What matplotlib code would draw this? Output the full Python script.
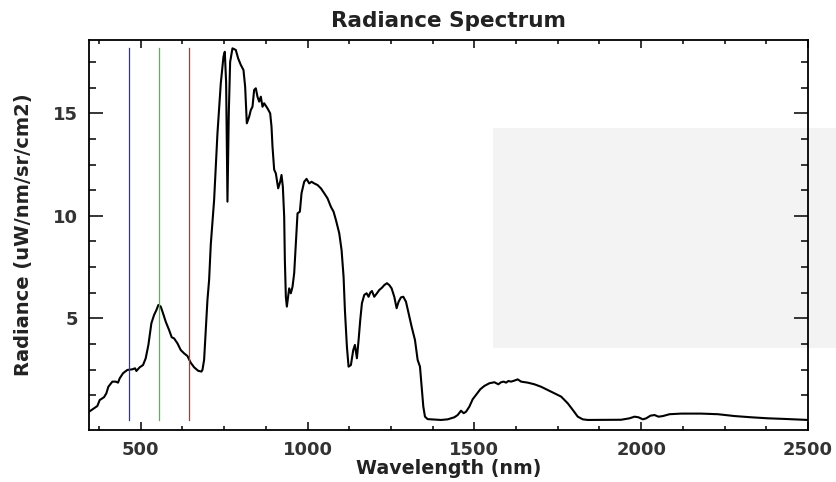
import matplotlib
matplotlib.use("Agg")
import matplotlib.pyplot as plt
from matplotlib.patches import Rectangle
from matplotlib.ticker import FixedLocator

wavelength = [345, 360, 370, 377, 390, 397, 403, 415, 425, 432, 437, 447, 460, 475, 483, 487,
              497, 507, 515, 523, 532, 540, 547, 553, 560, 567, 575, 585, 593, 600, 610, 620,
              630, 640, 650, 660, 672, 682, 685, 690, 695, 700, 705, 710, 720, 730, 740, 748,
              752, 756, 760, 764, 768, 775, 785, 792, 800, 808, 813, 818, 825, 830, 835, 840,
              845, 850, 855, 860, 865, 870, 880, 888, 892, 895, 900, 905, 912, 918, 922, 926,
              930, 932, 935, 938, 945, 950, 955, 960, 965, 970, 977, 982, 990, 997, 1005, 1012,
              1020, 1030, 1040, 1050, 1060, 1070, 1078, 1085, 1095, 1102, 1108, 1112, 1118, 1123,
              1130, 1137, 1142, 1148, 1153, 1158, 1163, 1170, 1177, 1183, 1188, 1193, 1200, 1208,
              1215, 1223, 1230, 1238, 1245, 1252, 1260, 1267, 1273, 1280, 1287, 1295, 1303, 1312,
              1322, 1330, 1337, 1342, 1347, 1352, 1360, 1400, 1420, 1440, 1450, 1460, 1468, 1475,
              1485, 1495, 1505, 1518, 1530, 1545, 1560, 1572, 1580, 1588, 1595, 1602, 1610, 1620,
              1630, 1640, 1660, 1680, 1700, 1720, 1740, 1760, 1780, 1795, 1810, 1825, 1840, 1940,
              1965, 1980, 1992, 2005, 2015, 2028, 2040, 2052, 2065, 2085, 2120, 2180, 2230, 2280,
              2330, 2380, 2430, 2500]
radiance = [0.44, 0.61, 0.72, 1.01, 1.15, 1.34, 1.66, 1.91, 1.91, 1.86, 2.07, 2.32, 2.48, 2.51, 2.56, 2.43,
            2.61, 2.72, 3.05, 3.70, 4.76, 5.16, 5.40, 5.65, 5.57, 5.24, 4.83, 4.43, 4.07, 4.02, 3.78, 3.45,
            3.29, 3.16, 2.83, 2.61, 2.44, 2.40, 2.48, 2.97, 4.43, 5.89, 6.87, 8.60, 10.77, 14.02, 16.46, 17.76,
            18.00, 16.50, 10.69, 15.00, 17.50, 18.17, 18.09, 17.68, 17.36, 17.11, 16.30, 14.51, 14.83, 15.16, 15.32, 16.14,
            16.22, 15.81, 15.57, 15.81, 15.32, 15.49, 15.24, 15.00, 14.35, 13.37, 12.25, 12.07, 11.34, 11.66, 11.99, 11.42,
            9.96, 7.84, 6.05, 5.57, 6.46, 6.22, 6.54, 7.20, 8.66, 10.12, 10.20, 11.10, 11.66, 11.80, 11.58, 11.66,
            11.58, 11.50, 11.34, 11.10, 10.85, 10.44, 10.20, 9.80, 9.15, 8.33, 7.03, 5.40, 3.61, 2.64,
            2.72, 3.45, 3.70, 3.05, 3.94, 4.92, 5.73, 6.14, 6.22, 6.05, 6.25, 6.33, 6.05, 6.22,
            6.38, 6.49, 6.62, 6.71, 6.62, 6.46, 6.05, 5.49, 5.81, 6.02, 6.05, 5.81, 5.24, 4.59,
            3.94, 2.97, 2.64, 1.66, 0.69, 0.20, 0.08, 0.04, 0.07, 0.17, 0.28, 0.49, 0.37, 0.44,
            0.69, 1.05, 1.26, 1.54, 1.70, 1.83, 1.88, 1.78, 1.88, 1.91, 1.86, 1.94, 1.91, 1.96,
            2.02, 1.91, 1.86, 1.78, 1.66, 1.50, 1.34, 1.18, 0.85, 0.53, 0.20, 0.07, 0.04, 0.05,
            0.12, 0.20, 0.17, 0.07, 0.12, 0.25, 0.28, 0.20, 0.23, 0.32, 0.35, 0.35, 0.32, 0.23,
            0.17, 0.12, 0.09, 0.04]

band_wavelengths = [465, 555, 645]
band_colors = ["#2b2bdc", "#2bd42b", "#dc2222"]

x_major = [500, 1000, 1500, 2000, 2500]
x_minor = [375, 625, 750, 875, 1125, 1250, 1375, 1625, 1750, 1875, 2125, 2250, 2375]
y_major = [5, 10, 15]
y_minor = [1.25, 2.5, 3.75, 6.25, 7.5, 8.75, 11.25, 12.5, 13.75, 16.25, 17.5]

plt.rcParams['font.family'] = ['DejaVu Sans']

fig = plt.figure(figsize=(8.36, 4.82), dpi=100)
fig.patch.set_facecolor("white")

# light gray empty box (legend area)
W, H = 836.0, 482.0
fig.patches.append(Rectangle((493 / W, 1 - 348 / H), (836 - 493) / W, (348 - 128) / H,
                             transform=fig.transFigure, facecolor="#f3f3f3",
                             edgecolor="none", zorder=-5))

ax = fig.add_axes([89 / W, 1 - 430 / H, (808 - 89) / W, (430 - 39.5) / H])
ax.set_facecolor("none")

ax.plot(wavelength, radiance, color="black", lw=1.5, zorder=3)
ymin, ymax = min(radiance), max(radiance)
for wl, c in zip(band_wavelengths, band_colors):
    ax.plot([wl, wl], [ymin, ymax], color=c, lw=0.9, zorder=4)

ax.set_xlim(345, 2500)
ax.set_ylim(-0.45, 18.6)

ax.xaxis.set_major_locator(FixedLocator(x_major))
ax.xaxis.set_minor_locator(FixedLocator(x_minor))
ax.yaxis.set_major_locator(FixedLocator(y_major))
ax.yaxis.set_minor_locator(FixedLocator(y_minor))

for s in ax.spines.values():
    s.set_linewidth(1.3)

ax.tick_params(axis="both", which="both", direction="in", top=True, right=True,
               width=1.1, colors="black")
ax.tick_params(axis="x", which="major", length=6, pad=8)
ax.tick_params(axis="x", which="minor", length=3)
ax.tick_params(axis="y", which="major", length=10, pad=8)
ax.tick_params(axis="y", which="minor", length=5)

for lab in ax.get_xticklabels() + ax.get_yticklabels():
    lab.set_fontweight("bold")
    lab.set_fontsize(13)
    lab.set_color("#333333")

ax.set_title("Radiance Spectrum", fontsize=15.5, fontweight="bold", color="#222222", pad=9)
ax.set_xlabel("Wavelength (nm)", fontsize=13.7, fontweight="bold", color="#222222", labelpad=0)
ax.set_ylabel("Radiance (uW/nm/sr/cm2)", fontsize=14, fontweight="bold", color="#222222", labelpad=14)

fig.savefig("out.png", dpi=100)
